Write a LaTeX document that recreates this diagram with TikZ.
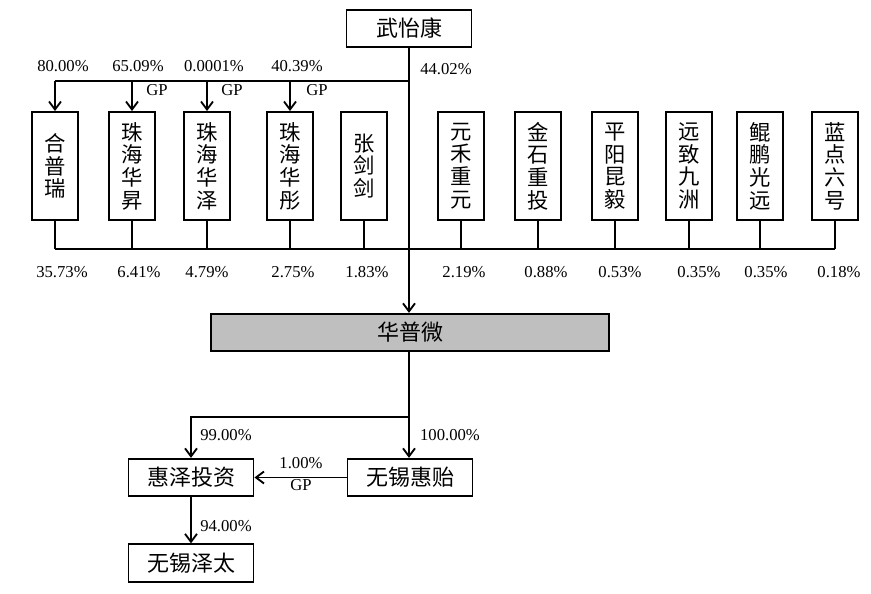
\documentclass[tikz,border=0pt]{standalone}
\usepackage{fontspec}
\setmainfont{Liberation Serif}
\newfontfamily\cjk{Noto Sans CJK SC}
\usetikzlibrary{arrows.meta}
\tikzset{
  hbox/.style={draw,line width=1.4pt,inner sep=0pt,minimum width=93.75pt,minimum height=28pt,
    font=\cjk\fontsize{16.5}{17}\selectfont},
  vbox/.style={draw,line width=1.4pt,inner sep=0pt,minimum width=34.5pt,minimum height=81pt,
    align=center,font=\cjk\fontsize{16}{17}\selectfont},
  pct/.style={inner sep=0pt,font=\fontsize{12.5}{13}\selectfont},
  link/.style={line width=1.4pt,-{Straight Barb[length=6pt,width=9pt,line width=1.4pt]}},
  line/.style={line width=1.4pt}
}
\begin{document}
\begin{tikzpicture}[x=0.75pt,y=-0.75pt]
  \useasboundingbox (0,0) rectangle (871,593);
  \node[hbox] (wyk) at (409,28.5) {武怡康};
  \node[hbox,fill=black!25,minimum width=299pt] (hpw) at (410,332.5) {华普微};
  \foreach \n/\x/\t in {hpr/55/{合\\普\\瑞},zhhs/132/{珠\\海\\华\\昇},zhhz/207/{珠\\海\\华\\泽},
      zhht/290/{珠\\海\\华\\彤},zjj/364/{张\\剑\\剑},yhzy/461/{元\\禾\\重\\元},jszt/538/{金\\石\\重\\投},
      pykj/615/{平\\阳\\昆\\毅},yzjz/689/{远\\致\\九\\洲},kpgy/760/{鲲\\鹏\\光\\远},ldlh/835/{蓝\\点\\六\\号}}
    \node[vbox] (\n) at (\x,166) {\t};
  \coordinate (tbus) at (409,81);
  \coordinate (bbus) at (409,249);
  \coordinate (br) at (409,417);
%%%
  \draw[link] (wyk.south) -- (wyk.south |- hpw.north);
  \draw[line] (tbus) -- (tbus -| hpr.north);
  \foreach \n in {hpr,zhhs,zhhz,zhht}
    \draw[link] (tbus -| \n.north) -- (\n.north);
  \draw[line] (hpr.south |- bbus) -- (ldlh.south |- bbus);
  \foreach \n in {hpr,zhhs,zhhz,zhht,zjj,yhzy,jszt,pykj,yzjz,kpgy,ldlh}
    \draw[line] (\n.south) -- (\n.south |- bbus);
  \node[pct] (p1) at (63,66) {80.00\%};
  \node[pct] (p2) at (138,66) {65.09\%};
  \node[pct] (p3) at (214,66) {0.0001\%};
  \node[pct] (p4) at (297,66) {40.39\%};
  \node[pct] (p5) at (446,69) {44.02\%};
  \node[pct] (gp1) at (157,90) {GP};
  \node[pct] (gp2) at (232,90) {GP};
  \node[pct] (gp3) at (317,90) {GP};
%%%
  \foreach \x/\v [count=\i] in {62/35.73,139/6.41,207/4.79,293/2.75,367/1.83,464/2.19,
      546/0.88,620/0.53,699/0.35,766/0.35,839/0.18}
    \node[pct] (q\i) at (\x,272) {\v\%};
%%%
  \node[hbox] (hzt) at (191,477.5) {惠泽投资};
  \node[hbox] (wxhy) at (410,477.5) {无锡惠贻};
  \node[hbox] (wxzt) at (191,563) {无锡泽太};
  \draw[link] (hpw.south -| br) -- (br |- wxhy.north);
  \draw[link] (br) -| (hzt.north);
  \draw[link] (wxhy.west) -- (hzt.east);
  \draw[link] (hzt.south) -- (wxzt.north);
  \node[pct] (p6) at (226,435) {99.00\%};
  \node[pct] (p7) at (450,435) {100.00\%};
  \node[pct] (p8) at (301,463) {1.00\%};
  \node[pct] (gp4) at (301,485) {GP};
  \node[pct] (p9) at (226,526) {94.00\%};
\end{tikzpicture}
\end{document}
